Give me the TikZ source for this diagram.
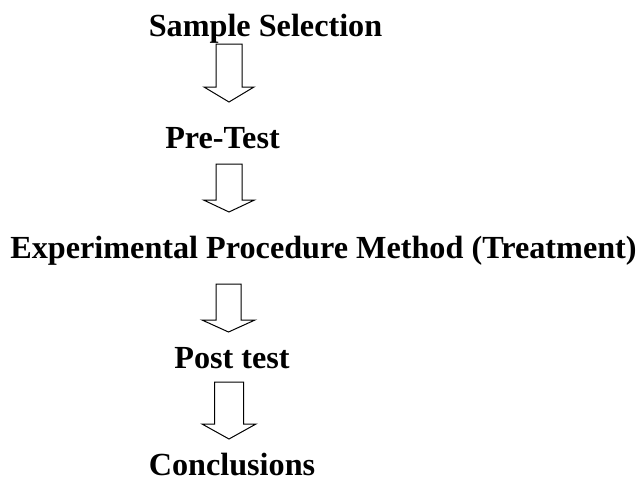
\documentclass[tikz,border=0pt]{standalone}
\usepackage{fontspec}
\setmainfont{Liberation Serif}
\begin{document}
\begin{tikzpicture}[x=1pt,y=-1pt,
  label/.style={anchor=base,inner sep=0pt,font=\fontsize{32.2}{38}\selectfont\bfseries},
  blockarr/.style={draw=black,line width=1pt,fill=white,line join=miter}]
\useasboundingbox (0,0) rectangle (640,482);
\newcommand{\barrow}[7]{%
  \coordinate (#1) at (#2,#3);
  \draw[blockarr] ({#2-#6},#3) -- ({#2-#6},#4) -- ({#2-#7},#4) -- (#2,#5)
     -- ({#2+#7},#4) -- ({#2+#6},#4) -- ({#2+#6},#3) -- cycle;}
\node[label] (s1) at (265.5,36.5) {Sample Selection};
\node[label] (s2) at (222.5,148) {Pre-Test};
\node[label] (s3) at (323.5,258) {Experimental Procedure Method (Treatment)};
\node[label] (s4) at (232,368) {Post test};
\node[label] (s5) at (232,475) {Conclusions};
\barrow{a1}{229}{44}{87}{102}{13}{25}
\barrow{a2}{229}{164}{200}{212}{13}{25.5}
\barrow{a3}{228.5}{284}{320}{332}{12.5}{26.5}
\barrow{a4}{229}{382}{424}{439}{14.5}{27}
\end{tikzpicture}
\end{document}
